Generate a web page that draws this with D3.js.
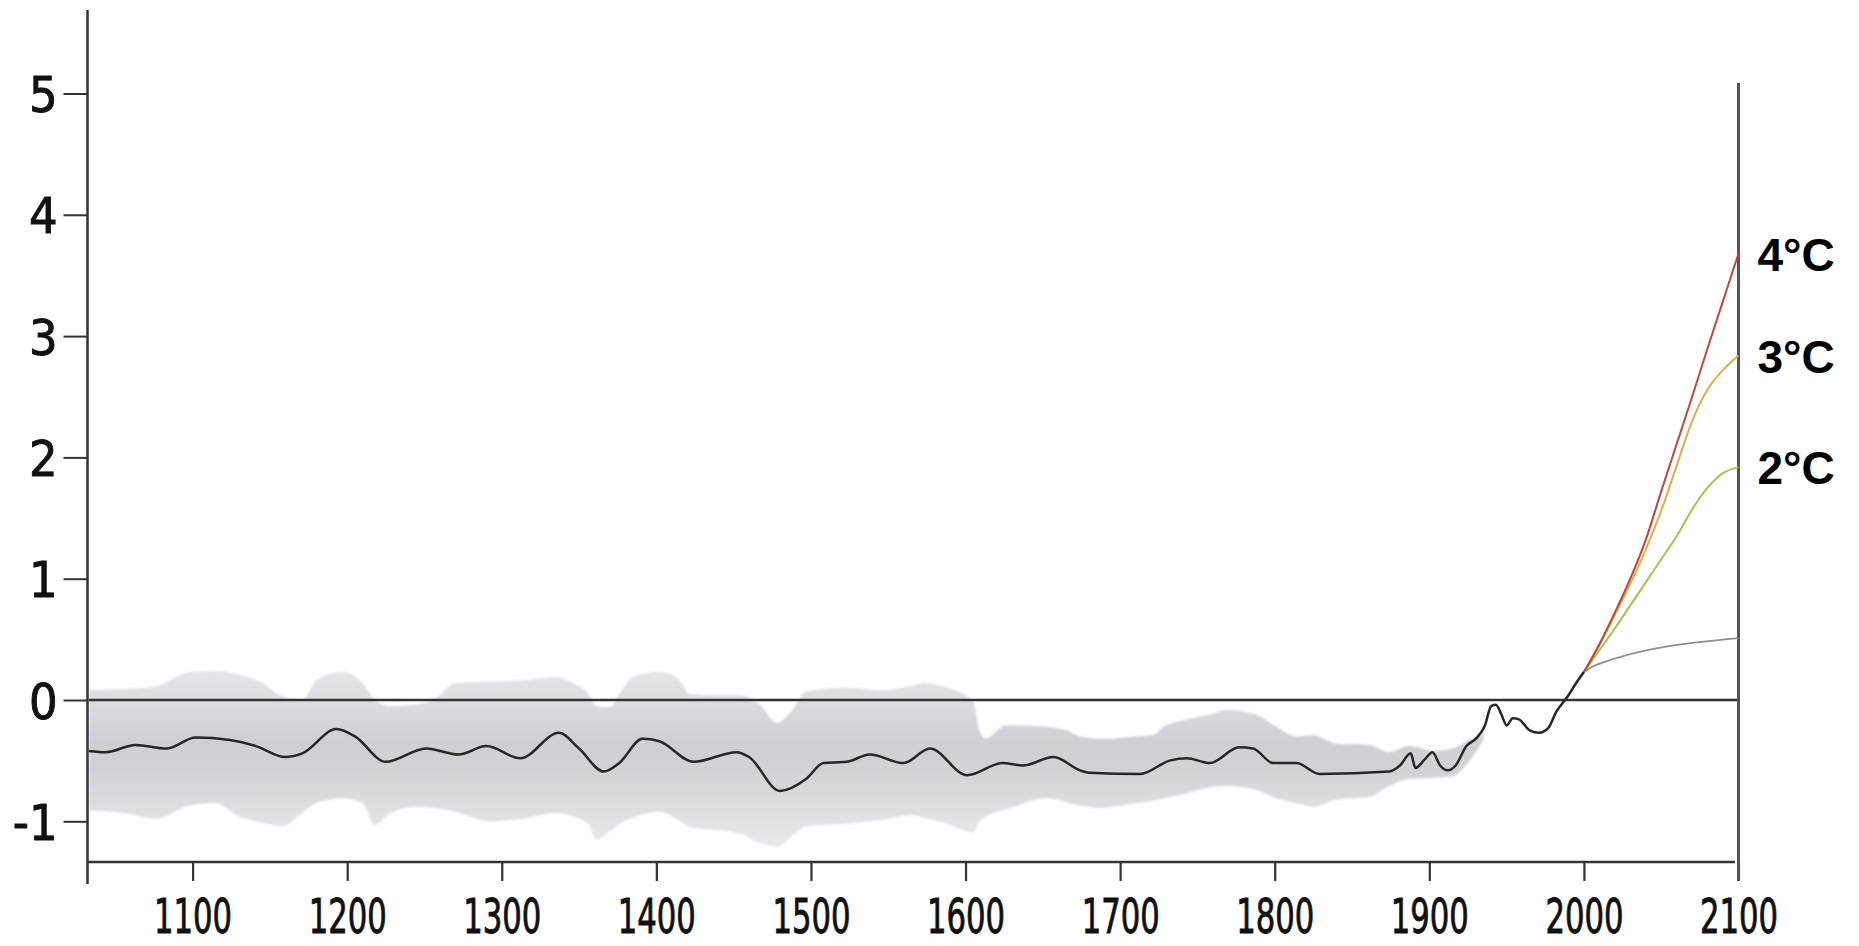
<!DOCTYPE html>
<html><head><meta charset="utf-8">
<script src="https://cdn.jsdelivr.net/npm/d3@7"></script>
<style>html,body{margin:0;padding:0;background:#fff;} svg{display:block}</style>
</head><body>
<svg id="c" width="1859" height="946"></svg>
<script>
// ---- data ----
const lineYears = [1033,1044,1063,1083,1102,1124,1141,1160,1171,1193,1205,1225,1251,1272,1290,1312,1337,1350,1366,1376,1391,1402,1424,1452,1460,1480,1497,1508,1523,1538,1560,1577,1601,1624,1637,1657,1674,1680,1713,1732,1743,1758,1777,1786,1799,1814,1829,1874,1881,1888,1891,1897,1902,1907,1912,1917,1924,1930,1936,1940,1943,1947,1950,1954,1958,1965,1971,1977,1982,1989,1995,2000];
const lineValues = [-0.42,-0.43,-0.37,-0.40,-0.31,-0.33,-0.38,-0.47,-0.44,-0.24,-0.30,-0.51,-0.40,-0.45,-0.38,-0.48,-0.27,-0.40,-0.59,-0.52,-0.32,-0.34,-0.51,-0.43,-0.47,-0.75,-0.65,-0.52,-0.51,-0.45,-0.52,-0.40,-0.62,-0.52,-0.54,-0.47,-0.58,-0.60,-0.61,-0.50,-0.48,-0.52,-0.39,-0.40,-0.52,-0.52,-0.61,-0.59,-0.54,-0.44,-0.56,-0.49,-0.43,-0.54,-0.58,-0.54,-0.38,-0.32,-0.21,-0.05,-0.04,-0.13,-0.21,-0.15,-0.16,-0.25,-0.27,-0.23,-0.10,0.02,0.14,0.23];

const bandYears = [1033,1055,1076,1098,1115,1130,1145,1158,1171,1180,1197,1210,1218,1227,1244,1257,1270,1292,1313,1335,1346,1356,1361,1370,1376,1385,1402,1413,1422,1437,1454,1467,1478,1488,1497,1523,1545,1566,1573,1588,1605,1609,1613,1626,1631,1652,1665,1674,1689,1710,1721,1728,1743,1758,1769,1788,1801,1814,1825,1840,1861,1874,1887,1904,1915,1926,1935];
const bandUpper = [0.08,0.09,0.11,0.23,0.24,0.21,0.14,0.03,0.00,0.16,0.23,0.14,0.00,-0.05,-0.04,0.01,0.14,0.15,0.16,0.19,0.14,0.05,-0.05,-0.06,0.05,0.19,0.23,0.19,0.05,0.04,0.04,-0.04,-0.19,-0.08,0.07,0.10,0.08,0.12,0.14,0.10,-0.01,-0.25,-0.32,-0.21,-0.21,-0.22,-0.25,-0.30,-0.32,-0.30,-0.29,-0.22,-0.16,-0.12,-0.08,-0.12,-0.22,-0.30,-0.29,-0.36,-0.37,-0.43,-0.38,-0.42,-0.40,-0.33,-0.27];
const bandLower = [-0.91,-0.93,-0.98,-0.87,-0.85,-0.96,-1.01,-1.04,-0.93,-0.85,-0.81,-0.85,-1.03,-0.94,-0.88,-0.89,-0.92,-1.00,-0.98,-0.93,-0.96,-1.02,-1.15,-1.08,-1.02,-0.97,-0.92,-0.98,-1.05,-1.07,-1.10,-1.18,-1.21,-1.12,-1.04,-1.02,-0.99,-0.95,-0.97,-1.02,-1.09,-1.00,-0.96,-0.90,-0.88,-0.81,-0.84,-0.87,-0.89,-0.85,-0.83,-0.81,-0.77,-0.72,-0.71,-0.74,-0.81,-0.85,-0.88,-0.82,-0.80,-0.71,-0.65,-0.64,-0.63,-0.50,-0.33];

const projYears = [2000,2010,2020,2030,2040,2050,2060,2070,2080,2090,2100];
const proj4C = [0.23,0.46,0.72,1.00,1.32,1.72,2.11,2.50,2.90,3.29,3.68];
const proj3C = [0.23,0.45,0.70,0.96,1.24,1.56,1.93,2.30,2.56,2.72,2.84];
const proj2C = [0.23,0.41,0.59,0.78,0.97,1.16,1.35,1.57,1.75,1.87,1.92];
const grayYears = [2000,2008,2100];
const grayValues = [0.23,0.29,0.51];

const scenarioLabels = ["4°C","3°C","2°C"];
const scenarioColors = ["#b9493a","#dcae4a","#a3c452"];
const xTicks = [1100,1200,1300,1400,1500,1600,1700,1800,1900,2000,2100];
const yTicks = [-1,0,1,2,3,4,5];

// ---- scales ----
const svg = d3.select("#c");
const x = d3.scaleLinear().domain([1033, 2100]).range([89, 1738.5]);
const y = d3.scaleLinear().domain([-1, 5]).range([821.3, 93.5]);

const defs = svg.append("defs");
const grad = defs.append("linearGradient").attr("id","bandGrad")
  .attr("gradientUnits","userSpaceOnUse")
  .attr("x1",0).attr("x2",0).attr("y1",y(0.25)).attr("y2",y(-1.25));
[[0,"#e6e6e8"],[0.17,"#dcdde0"],[0.4,"#cecfd2"],[0.56,"#d2d3d6"],[0.8,"#dfe0e2"],[1,"#ebebed"]]
  .forEach(([o,c]) => grad.append("stop").attr("offset",o).attr("stop-color",c));
defs.append("filter").attr("id","soft").append("feGaussianBlur").attr("stdDeviation",1.3);

// ---- band ----
const bandData = bandYears.map((yr,i)=>({yr, u:bandUpper[i], l:bandLower[i]}));
svg.append("path").datum(bandData)
  .attr("d", d3.area().x(d=>x(d.yr)).y0(d=>y(d.l)).y1(d=>y(d.u)).curve(d3.curveMonotoneX))
  .attr("fill","url(#bandGrad)").attr("filter","url(#soft)");

// ---- zero line ----
svg.append("line").attr("x1",x(1033)).attr("x2",x(2100)).attr("y1",y(0)).attr("y2",y(0))
  .attr("stroke","#333").attr("stroke-width",2.5);

// ---- axes ----
const fontNarrow = "'Liberation Sans Narrow','DejaVu Sans Condensed',sans-serif";
const gy = svg.append("g").attr("transform","translate(87.5,0)")
  .call(d3.axisLeft(y).tickValues(yTicks).tickSize(24).tickPadding(6).tickFormat(d=>String(d)));
gy.select(".domain").remove();
gy.selectAll(".tick line").attr("stroke","#333").attr("stroke-width",2);
gy.selectAll(".tick text").attr("font-family",fontNarrow)
  .attr("font-size",50).attr("fill","#111").attr("dy","0.36em")
  .attr("stroke","#111").attr("stroke-width",0.9);
svg.append("line").attr("x1",87.5).attr("x2",87.5).attr("y1",10).attr("y2",884)
  .attr("stroke","#333").attr("stroke-width",2.5);

const gx = svg.append("g").attr("transform","translate(0,862)")
  .call(d3.axisBottom(x).tickValues(xTicks).tickSize(19).tickPadding(0).tickFormat(d=>String(d)));
gx.select(".domain").remove();
gx.selectAll(".tick line").attr("stroke","#333").attr("stroke-width",2.2);
gx.selectAll(".tick text").attr("font-family",fontNarrow)
  .attr("font-size",48).attr("fill","#111")
  .attr("y",71).attr("dy",0)
  .attr("stroke","#111").attr("stroke-width",0.9)
  .attr("textLength",78).attr("lengthAdjust","spacingAndGlyphs");
svg.append("line").attr("x1",87.5).attr("x2",1735).attr("y1",862).attr("y2",862)
  .attr("stroke","#333").attr("stroke-width",2.5);
svg.append("line").attr("x1",x(2100)).attr("x2",x(2100)).attr("y1",83).attr("y2",881)
  .attr("stroke","#555").attr("stroke-width",3);

// ---- projections ----
const lineGen = d3.line().x(d=>x(d[0])).y(d=>y(d[1])).curve(d3.curveMonotoneX);
svg.append("path").datum(grayYears.map((yr,i)=>[yr,grayValues[i]]))
  .attr("d",lineGen).attr("fill","none").attr("stroke","#8e8e8e").attr("stroke-width",1.8);
[proj2C, proj3C, proj4C].forEach((vals, k) => {
  const color = scenarioColors[2-k];
  svg.append("path").datum(projYears.map((yr,i)=>[yr,vals[i]]))
    .attr("d",lineGen).attr("fill","none").attr("stroke",color).attr("stroke-width",2);
});

// ---- main line ----
svg.append("path").datum(lineYears.map((yr,i)=>[yr,lineValues[i]]))
  .attr("d",lineGen).attr("fill","none").attr("stroke","#262626").attr("stroke-width",2.5)
  .attr("stroke-linejoin","round");

// ---- scenario labels ----
const finals = [proj4C[proj4C.length-1], proj3C[proj3C.length-1], proj2C[proj2C.length-1]];
scenarioLabels.forEach((t,i) => {
  svg.append("text").attr("x", x(2100)+19).attr("y", y(finals[i])+17)
    .attr("font-family","'Liberation Sans',Arial,sans-serif").attr("font-weight","bold")
    .attr("font-size",46).attr("fill","#000").text(t);
});
</script>
</body></html>
